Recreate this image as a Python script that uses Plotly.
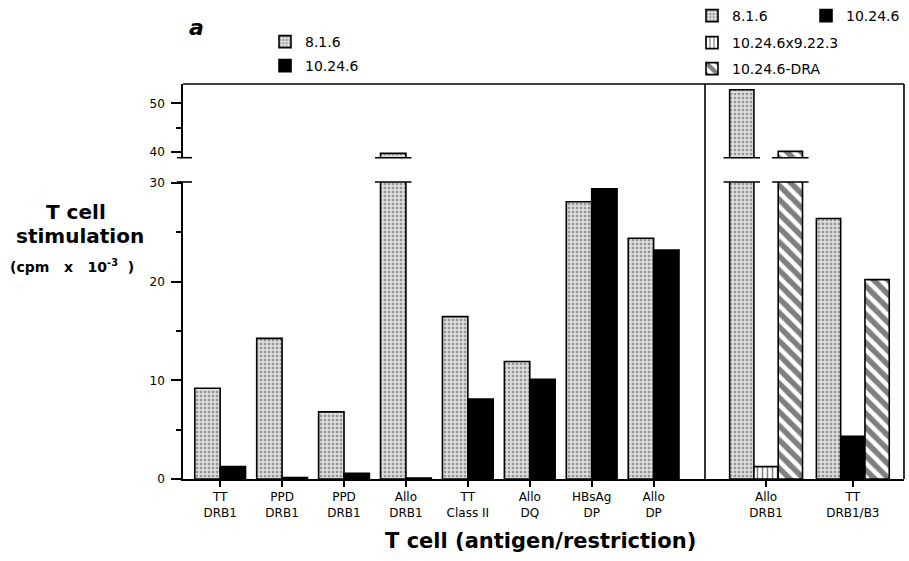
import plotly.graph_objects as go

# ---------------- data ----------------
left_labels = ["TT<br>DRB1", "PPD<br>DRB1", "PPD<br>DRB1", "Allo<br>DRB1",
               "TT<br>Class II", "Allo<br>DQ", "HBsAg<br>DP", "Allo<br>DP"]
left_816 = [9.2, 14.25, 6.8, 39.7, 16.45, 11.9, 28.1, 24.4]
left_1024 = [1.25, 0.15, 0.57, 0.1, 8.1, 10.1, 29.4, 23.2]

right_labels = ["Allo<br>DRB1", "TT<br>DRB1/B3"]
right_816 = [52.8, 26.4]
right_1024 = [None, 4.33]
right_x922 = [1.25, None]
right_dra = [40.1, 20.2]

lower_ticks = [0, 10, 20, 30]
upper_ticks = [40, 50]

# ---------------- layout geometry ----------------
W, H = 909, 561
ML, MR, MT, MB = 183, 5, 84, 82
PW, PH = W - ML - MR, H - MT - MB
LOWER_RANGE = [0, 30.1]
UPPER_RANGE = [38.8, 54]
LOWER_DOM = [0, 0.752]
UPPER_DOM = [0.8134, 1]
SPLIT = 0.724
LEFT_RANGE = [-0.6, 7.83]
RIGHT_RANGE = [-0.704, 1.59]


def pxx(px):
    return (px - ML) / PW


def pxy(py):
    return (H - MB - py) / PH


FONT = "DejaVu Sans"
LW = 1.6

STIPPLE = dict(color="#dcdcdc",
               pattern=dict(shape=".", fgcolor="#4a4a4a", bgcolor="#dcdcdc",
                            size=4, solidity=0.35),
               line=dict(color="black", width=LW))
BLACK = dict(color="black", line=dict(color="black", width=LW))
STRIPES = dict(color="white",
               pattern=dict(shape="|", fgcolor="black", bgcolor="white",
                            size=5, solidity=0.3),
               line=dict(color="black", width=LW))
HATCH = dict(color="white",
             pattern=dict(shape="\\", fgcolor="black", bgcolor="white",
                          size=10, solidity=0.55),
             line=dict(color="black", width=LW))

fig = go.Figure()
shapes = []

left_x = list(range(len(left_labels)))
right_x = list(range(len(right_labels)))


def add_series(name, xs, ys, marker, xa, ylo, yhi, offset, width, legend, ext):
    fig.add_bar(x=xs, y=ys, xaxis=xa, yaxis=ylo, offset=offset, width=width,
                marker=marker, name=name, legend=legend, showlegend=True)
    fig.add_bar(x=xs, y=ys, xaxis=xa, yaxis=yhi, offset=offset, width=width,
                marker=marker, name=name, showlegend=False)
    for xv, v in zip(xs, ys):
        if v is not None and v > LOWER_RANGE[1]:
            x0 = xv + offset - ext
            x1 = xv + offset + width + ext
            shapes.append(dict(type="line", xref=xa, yref=ylo + " domain",
                               x0=x0, x1=x1, y0=1, y1=1,
                               line=dict(color="black", width=LW)))
            shapes.append(dict(type="line", xref=xa, yref=yhi + " domain",
                               x0=x0, x1=x1, y0=0, y1=0,
                               line=dict(color="black", width=LW)))


WL = 0.41
add_series("8.1.6", left_x, left_816, STIPPLE, "x", "y", "y2", -WL, WL, "legend", 0.09)
add_series("10.24.6", left_x, left_1024, BLACK, "x", "y", "y2", 0.0, WL, "legend2", 0.09)

WR = 0.28
add_series("8.1.6", right_x, right_816, STIPPLE, "x2", "y3", "y4", -1.5 * WR, WR, "legend3", 0.07)
add_series("10.24.6", right_x, right_1024, BLACK, "x2", "y3", "y4", -0.5 * WR, WR, "legend4", 0.07)
add_series("10.24.6x9.22.3", right_x, right_x922, STRIPES, "x2", "y3", "y4", -0.5 * WR, WR, "legend5", 0.07)
add_series("10.24.6-DRA", right_x, right_dra, HATCH, "x2", "y3", "y4", 0.5 * WR, WR, "legend6", 0.07)

# frame lines
line = dict(color="black", width=LW)
shapes += [
    dict(type="line", xref="paper", yref="paper", x0=0, x1=1, y0=1, y1=1, line=line),
    dict(type="line", xref="paper", yref="paper", x0=SPLIT, x1=SPLIT, y0=0, y1=1, line=line),
    dict(type="line", xref="paper", yref="paper", x0=1, x1=1, y0=0, y1=1, line=line),
    # break caps on the y spine
    dict(type="line", xref="paper", yref="y domain", x0=pxx(177), x1=pxx(192), y0=1, y1=1, line=line),
    dict(type="line", xref="paper", yref="y2 domain", x0=pxx(177), x1=pxx(192), y0=0, y1=0, line=line),
]

tickfont = dict(family=FONT, size=12, color="black")
common_y = dict(showgrid=False, zeroline=False, showline=True, linecolor="black",
                linewidth=LW, ticks="outside", ticklen=10, tickwidth=LW,
                tickcolor="black", tickfont=tickfont, ticklabelstandoff=4,
                automargin=False,
                minor=dict(ticks="outside", ticklen=5, tickwidth=LW,
                           tickcolor="black", dtick=5, showgrid=False))
hidden_y = dict(showgrid=False, zeroline=False, showline=False,
                showticklabels=False, ticks="", automargin=False)
common_x = dict(showgrid=False, zeroline=False, showline=True, linecolor="black",
                linewidth=LW, ticks="outside", ticklen=6, tickwidth=LW,
                tickcolor="black", tickangle=0, automargin=False,
                tickfont=dict(family=FONT, size=12, color="black"))


def legend_at(icon_cx, cy):
    return dict(xref="container", yref="container", x=(icon_cx - 20) / W,
                y=1 - cy / H, xanchor="left", yanchor="middle",
                bgcolor="rgba(0,0,0,0)", borderwidth=0,
                font=dict(family=FONT, size=14, color="black"))


ann_font = dict(family=FONT, color="black")
annotations = [
    dict(text="<b><i>a</i></b>", x=pxx(196), y=pxy(28), font=dict(ann_font, size=22)),
    dict(text="<b>T cell</b>", x=pxx(76), y=pxy(212), font=dict(ann_font, size=20)),
    dict(text="<b>stimulation</b>", x=pxx(80), y=pxy(236), font=dict(ann_font, size=20)),
    dict(text="<b>(cpm\u00a0\u00a0 x\u00a0\u00a0 10<sup>-3</sup>\u00a0 )</b>", x=pxx(72), y=pxy(266),
         font=dict(ann_font, size=14)),
    dict(text="<b>T cell (antigen/restriction)</b>", x=pxx(540), y=pxy(541),
         font=dict(ann_font, size=21)),
]
for a in annotations:
    a.update(xref="paper", yref="paper", showarrow=False, xanchor="center", yanchor="middle")

fig.update_layout(
    width=W, height=H,
    margin=dict(l=ML, r=MR, t=MT, b=MB, autoexpand=False),
    paper_bgcolor="white", plot_bgcolor="white",
    barmode="overlay",
    xaxis=dict(common_x, domain=[0, SPLIT], range=LEFT_RANGE, anchor="y",
               tickvals=left_x, ticktext=left_labels),
    xaxis2=dict(common_x, domain=[SPLIT, 1], range=RIGHT_RANGE, anchor="y3",
                tickvals=right_x, ticktext=right_labels),
    yaxis=dict(common_y, domain=LOWER_DOM, range=LOWER_RANGE, anchor="x",
               tickvals=lower_ticks),
    yaxis2=dict(common_y, domain=UPPER_DOM, range=UPPER_RANGE, anchor="x",
                tickvals=upper_ticks),
    yaxis3=dict(hidden_y, domain=LOWER_DOM, range=LOWER_RANGE, anchor="x2"),
    yaxis4=dict(hidden_y, domain=UPPER_DOM, range=UPPER_RANGE, anchor="x2"),
    legend=legend_at(285, 42),
    legend2=legend_at(285, 66),
    legend3=legend_at(712, 16),
    legend4=legend_at(826, 16),
    legend5=legend_at(712, 43),
    legend6=legend_at(712, 69),
    shapes=shapes,
    annotations=annotations,
    font=dict(family=FONT, color="black"),
)

fig.write_html("out.html")
